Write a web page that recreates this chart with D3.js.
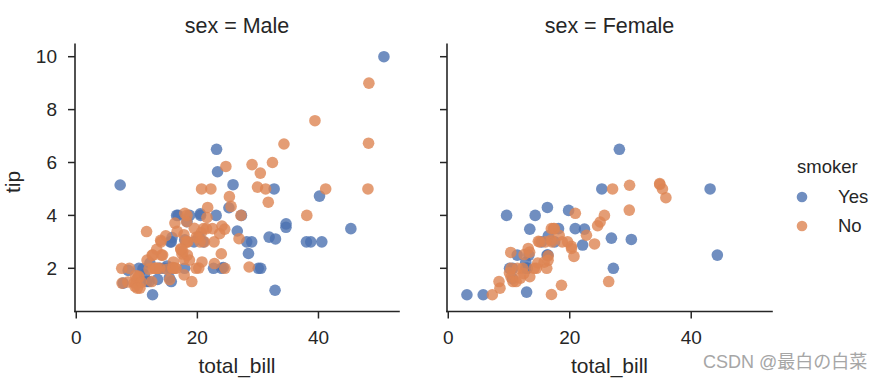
<!DOCTYPE html>
<html>
<head>
<meta charset="utf-8">
<script src="https://cdn.jsdelivr.net/npm/d3@7"></script>
<style>
  html, body { margin: 0; padding: 0; background: #fff; }
  svg { display: block; font-family: "Liberation Sans", Arial, sans-serif; }
</style>
</head>
<body>
<div id="chart"></div>
<script>
// seaborn "tips" dataset columns
const totalBill = [16.99,10.34,21.01,23.68,24.59,25.29,8.77,26.88,15.04,14.78,10.27,35.26,15.42,18.43,14.83,21.58,10.33,16.29,16.97,20.65,
17.92,20.29,15.77,39.42,19.82,17.81,13.37,12.69,21.7,19.65,9.55,18.35,15.06,20.69,17.78,24.06,16.31,16.93,18.69,31.27,
16.04,17.46,13.94,9.68,30.4,18.29,22.23,32.4,28.55,18.04,12.54,10.29,34.81,9.94,25.56,19.49,38.01,26.41,11.24,48.27,
20.29,13.81,11.02,18.29,17.59,20.08,16.45,3.07,20.23,15.01,12.02,17.07,26.86,25.28,14.73,10.51,17.92,27.2,22.76,17.29,
19.44,16.66,10.07,32.68,15.98,34.83,13.03,18.28,24.71,21.16,28.97,22.49,5.75,16.32,22.75,40.17,27.28,12.03,21.01,12.46,
11.35,15.38,44.3,22.42,20.92,15.36,20.49,25.21,18.24,14.31,14.0,7.25,38.07,23.95,25.71,17.31,29.93,10.65,12.43,24.08,
11.69,13.42,14.26,15.95,12.48,29.8,8.52,14.52,11.38,22.82,19.08,20.27,11.17,12.26,18.26,8.51,10.33,14.15,16.0,13.16,
17.47,34.3,41.19,27.05,16.43,8.35,18.64,11.87,9.78,7.51,14.07,13.13,17.26,24.55,19.77,29.85,48.17,25.0,13.39,16.49,
21.5,12.66,16.21,13.81,17.51,24.52,20.76,31.71,10.59,10.63,50.81,15.81,7.25,31.85,16.82,32.9,17.89,14.48,9.6,34.63,
34.65,23.33,45.35,23.17,40.55,20.69,20.9,30.46,18.15,23.1,15.69,19.81,28.44,15.48,16.58,7.56,10.34,43.11,13.0,13.51,
18.71,12.74,13.0,16.4,20.53,16.47,26.59,38.73,24.27,12.76,30.06,25.89,48.33,13.27,28.17,12.9,28.15,11.59,7.74,30.14,
12.16,13.42,8.58,15.98,13.42,16.27,10.09,20.45,13.28,22.12,24.01,15.69,11.61,10.77,15.53,10.07,12.6,32.83,35.83,29.03,
27.18,22.67,17.82,18.78];
const tip = [1.01,1.66,3.5,3.31,3.61,4.71,2.0,3.12,1.96,3.23,1.71,5.0,1.57,3.0,3.02,3.92,1.67,3.71,3.5,3.35,
4.08,2.75,2.23,7.58,3.18,2.34,2.0,2.0,4.3,3.0,1.45,2.5,3.0,2.45,3.27,3.6,2.0,3.07,2.31,5.0,
2.24,2.54,3.06,1.32,5.6,3.0,5.0,6.0,2.05,3.0,2.5,2.6,5.2,1.56,4.34,3.51,3.0,1.5,1.76,6.73,
3.21,2.0,1.98,3.76,2.64,3.15,2.47,1.0,2.01,2.09,1.97,3.0,3.14,5.0,2.2,1.25,3.08,4.0,3.0,2.71,
3.0,3.4,1.83,5.0,2.03,5.17,2.0,4.0,5.85,3.0,3.0,3.5,1.0,4.3,3.25,4.73,4.0,1.5,3.0,1.5,
2.5,3.0,2.5,3.48,4.08,1.64,4.06,4.29,3.76,4.0,3.0,1.0,4.0,2.55,4.0,3.5,5.07,1.5,1.8,2.92,
2.31,1.68,2.5,2.0,2.52,4.2,1.48,2.0,2.0,2.18,1.5,2.83,1.5,2.0,3.25,1.25,2.0,2.0,2.0,2.75,
3.5,6.7,5.0,5.0,2.3,1.5,1.36,1.63,1.73,2.0,2.5,2.0,2.74,2.0,2.0,5.14,5.0,3.75,2.61,2.0,
3.5,2.5,2.0,2.0,3.0,3.48,2.24,4.5,1.61,2.0,10.0,3.16,5.15,3.18,4.0,3.11,2.0,2.0,4.0,3.55,
3.68,5.65,3.5,6.5,3.0,5.0,3.5,2.0,3.5,4.0,1.5,4.19,2.56,2.02,4.0,1.44,2.0,5.0,2.0,2.0,
4.0,2.01,2.0,2.5,4.0,3.23,3.41,3.0,2.03,2.23,2.0,5.16,9.0,2.5,6.5,1.1,3.0,1.5,1.44,3.09,
2.2,3.48,1.92,3.0,1.58,2.5,2.0,3.0,2.72,2.88,2.0,3.0,3.39,1.47,3.0,1.25,1.0,1.17,4.67,5.92,
2.0,2.0,1.75,3.0];
// sex: M = Male, F = Female (one letter per row)
const sex = [
  "FMMMFMMMMM","MFMMFMFMFM","MFFMMMMMMF","MMFFMMMFMM","MMMMMMMMMM",
  "MFFMMMMFMM","MMMMMMFFMM","MFFFFMMMMM","MMFMMFMMMM","MMFFFMMMMM",
  "FFFFFMMMMF","MFMMFFMFFF","MFMMFFMFFM","MFFFFFFFMF","FMMFFFFFMM",
  "MMMMMFMFFM","MMFMFMMMFF","MMMMMMMMFM","MMMMMMFMFM","MFMMMMMFFM",
  "MFFFMFMMMF","MMMFFFMMMF","MFMFMFFMMF","MMMMMMMMFM","FMMF"
].join("").split("");
// smoker: Y = Yes, N = No (one letter per row)
const smoker = [
  "NNNNNNNNNN","NNNNNNNNNN","NNNNNNNNNN","NNNNNNNNNN","NNNNNNNNNN",
  "NNNNNNYNYN","YYYYNNNYNY","NNYYNNYNNN","YNNYNNNNNN","YNYYNYYYYN",
  "YYYYNYYYNY","NNNNNNNNNN","NNNNNNNNNN","NNNNNNNNYN","NNNNNNNNNN",
  "NNNNNNNNNN","NNNNYNNNYY","YYYYYYYYYY","YYYYYNYYYY","YYYYYNYYYY",
  "YYYYYYYYYY","YYNYYYYYYY","YYYNYYYNNY","YYNNYNYYNN","YYNN"
].join("").split("");

const sexes = ["Male", "Female"];
const sexCodes = ["M", "F"];
const smokerLevels = ["Yes", "No"];
const smokerCodes = ["Y", "N"];
const xTicks = [0, 20, 40];
const yTicks = [2, 4, 6, 8, 10];
const colors = ["#4c72b0", "#dd8452"];

if (totalBill.length !== 244 || tip.length !== 244 || sex.length !== 244 || smoker.length !== 244) {
  throw new Error("lengths " + [totalBill.length, tip.length, sex.length, smoker.length].join(","));
}

const W = 890, H = 381;
const svg = d3.select("#chart").append("svg").attr("width", W).attr("height", H);

const ink = "#262626";
const panels = [{left: 75, right: 399}, {left: 447, right: 772}];
const plotTop = 44.3, plotBottom = 311.5;
const y = d3.scaleLinear().domain([0.367, 10.469]).range([plotBottom, plotTop]);

const rows = totalBill.map((b, i) => ({b, t: tip[i], sex: sex[i], smk: smoker[i]}));

panels.forEach((p, pi) => {
  const x = d3.scaleLinear().domain([-0.21, 53.3]).range([p.left, p.right]);
  const g = svg.append("g");

  // points: Yes first, then No
  smokerCodes.forEach((sc, si) => {
    const data = rows.filter(r => r.sex === sexCodes[pi] && r.smk === sc);
    g.append("g").selectAll("circle").data(data).join("circle")
      .attr("cx", d => x(d.b)).attr("cy", d => y(d.t)).attr("r", 5.8)
      .attr("fill", colors[si]).attr("fill-opacity", 0.8);
  });

  // spines
  g.append("line").attr("x1", p.left).attr("x2", p.left).attr("y1", plotTop).attr("y2", plotBottom)
    .attr("stroke", ink).attr("stroke-width", 1.6).attr("stroke-linecap", "square");
  g.append("line").attr("x1", p.left).attr("x2", p.right).attr("y1", plotBottom).attr("y2", plotBottom)
    .attr("stroke", ink).attr("stroke-width", 1.6).attr("stroke-linecap", "square");

  // x ticks
  xTicks.forEach(v => {
    g.append("line").attr("x1", x(v)).attr("x2", x(v)).attr("y1", plotBottom).attr("y2", plotBottom + 7)
      .attr("stroke", ink).attr("stroke-width", 1.5);
    g.append("text").attr("x", x(v)).attr("y", 344).attr("text-anchor", "middle")
      .attr("font-size", 19).attr("fill", ink).text(v);
  });
  // y ticks
  yTicks.forEach(v => {
    g.append("line").attr("x1", p.left - 7).attr("x2", p.left).attr("y1", y(v)).attr("y2", y(v))
      .attr("stroke", ink).attr("stroke-width", 1.5);
    if (pi === 0) {
      g.append("text").attr("x", p.left - 18).attr("y", y(v)).attr("dy", "0.35em")
        .attr("text-anchor", "end").attr("font-size", 19).attr("fill", ink).text(v);
    }
  });

  const cx = (p.left + p.right) / 2;
  g.append("text").attr("x", cx).attr("y", 33).attr("text-anchor", "middle")
    .attr("font-size", 21.5).attr("fill", ink).text("sex = " + sexes[pi]);
  g.append("text").attr("x", cx).attr("y", 373).attr("text-anchor", "middle")
    .attr("font-size", 21).attr("fill", ink).text("total_bill");
});

// y label
svg.append("text").attr("transform", "translate(20,182) rotate(-90)").attr("text-anchor", "middle")
  .attr("font-size", 21).attr("fill", ink).text("tip");

// legend
svg.append("text").attr("x", 797).attr("y", 173).attr("font-size", 18.5).attr("fill", ink).text("smoker");
smokerLevels.forEach((lv, i) => {
  const yy = 197 + i * 29;
  svg.append("circle").attr("cx", 802).attr("cy", yy).attr("r", 5.3)
    .attr("fill", colors[i]).attr("fill-opacity", 0.8);
  svg.append("text").attr("x", 838).attr("y", yy).attr("dy", "0.35em")
    .attr("font-size", 18.5).attr("fill", ink).text(lv);
});

// watermark
svg.append("text").attr("x", 703).attr("y", 368)
  .attr("font-family", "'Liberation Sans', 'Noto Sans CJK SC', sans-serif")
  .attr("font-size", 18).attr("fill", "#a6a6a6").text("CSDN @最白の白菜");
</script>
</body>
</html>
